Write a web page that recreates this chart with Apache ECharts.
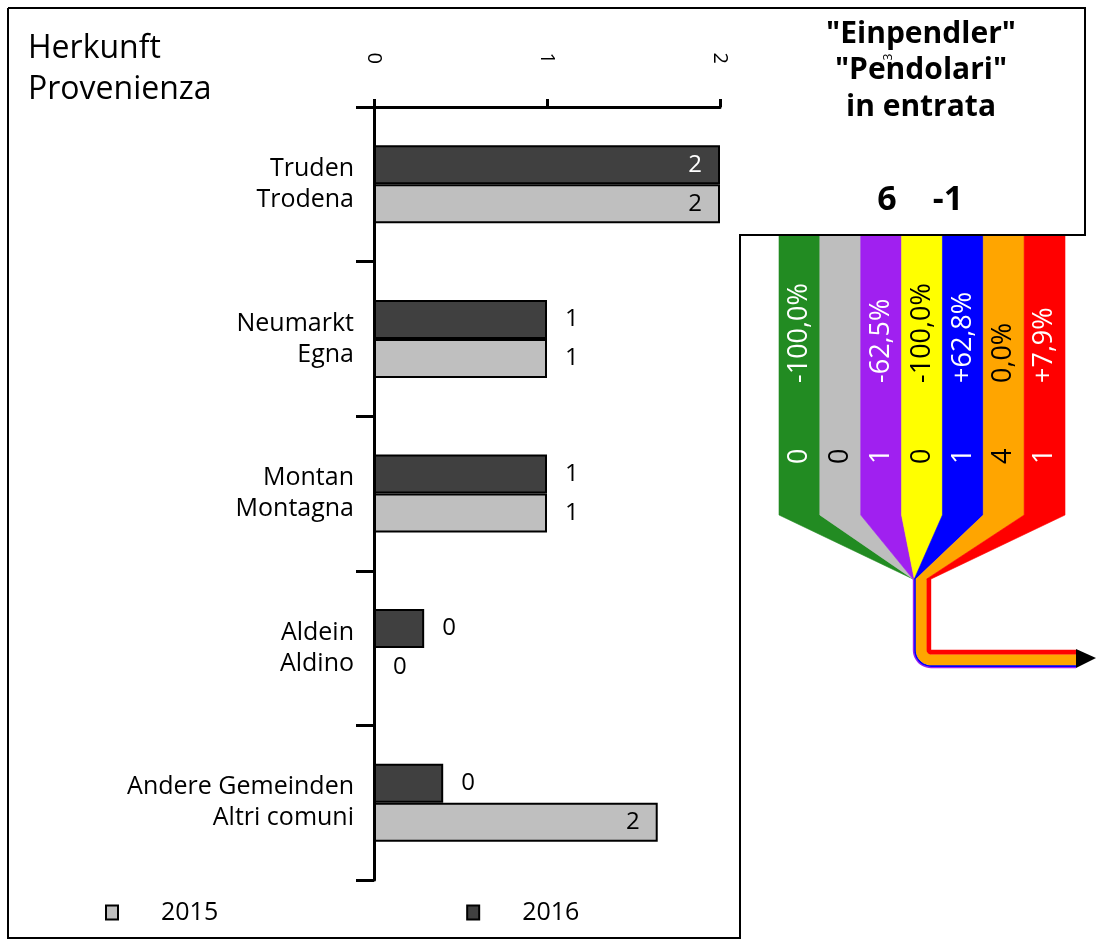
<!DOCTYPE html>
<html><head><meta charset="utf-8">
<script src="https://cdn.jsdelivr.net/npm/echarts@6/dist/echarts.min.js"></script>
<style>html,body{margin:0;padding:0;background:#fff}#c{width:1096px;height:942px}</style>
</head><body><div id="c"></div>
<script>
// ---- data ----
const categories = ['Truden\nTrodena', 'Neumarkt\nEgna', 'Montan\nMontagna', 'Aldein\nAldino', 'Andere Gemeinden\nAltri comuni'];
const values2016 = [2, 1, 1, 0.29, 0.40];
const values2015 = [2, 1, 1, 0, 1.64];
const xTickValues = [0, 1, 2];
const seriesNames = ['2015', '2016'];
const modes = ['m1', 'm2', 'm3', 'm4', 'm5', 'm6', 'm7'];
const modeChanges = ['-100,0%', '', '-62,5%', '-100,0%', '+62,8%', '0,0%', '+7,9%'];
const modeCounts = [0, 0, 1, 0, 1, 4, 1];
const flowValues = [0, 0, 0.5, 0, 0.6, 4.0, 1.6];
const titleLines = ['"Einpendler"', '"Pendolari"', 'in entrata'];
const headerLines = ['Herkunft', 'Provenienza'];
const totalValue = '6';
const totalChange = '-1';

// ---- styles ----
const FONT = 'Open Sans';
const modeColors = ['#228B22', '#BEBEBE', '#A020F0', '#FFFF00', '#0000FF', '#FFA500', '#FF0000'];
const modeTextColors = ['#fff', '#000', '#fff', '#000', '#fff', '#000', '#fff'];
const PX = 2.7;

const chart = echarts.init(document.getElementById('c'), null, {renderer: 'canvas'});

function barItems(vals, insideColor) {
  return vals.map(v => ({
    value: v,
    label: v >= 1.5
      ? {position: 'insideRight', distance: 18, color: insideColor}
      : {position: 'right', distance: 18, color: '#000'}
  }));
}

function renderStripe(params, api) {
  const n = modes.length;
  const i = params.dataIndex;
  const band = api.size([1, 0])[0];
  const cTop = api.coord([i, 1]);
  const cBot = api.coord([i, 0]);
  const x0 = cTop[0] - band / 2, x1 = cTop[0] + band / 2;
  const yTop = cTop[1], yB = cBot[1], yF = yB - 64;
  const left = api.coord([0, 0])[0] - band / 2;
  const right = api.coord([n - 1, 0])[0] + band / 2;
  const center = (left + right) / 2;
  const total = flowValues.reduce((a, b) => a + b, 0) * PX;
  const pipeRight = center + total / 2;
  let after = 0;
  for (let j = i + 1; j < n; j++) after += flowValues[j];
  const w = flowValues[i] * PX;
  const p1 = pipeRight - after * PX;
  const p0 = p1 - w;
  const color = modeColors[i];
  const children = [{
    type: 'polygon',
    shape: {points: [[x0, yTop], [x1, yTop], [x1, yF], [p1, yB], [p0, yB], [x0, yF]]},
    style: {fill: color, stroke: color, lineWidth: 0.6}
  }];
  const yC = yB + 71;
  const xEnd = right + 11;
  if (w > 0) {
    const o = after * PX + w / 2;
    const pts = [[pipeRight - o, yB], [pipeRight - o, yC]];
    for (let k = 1; k <= 12; k++) {
      const t = Math.PI - (Math.PI / 2) * k / 12;
      pts.push([pipeRight + o * Math.cos(t), yC + o * Math.sin(t)]);
    }
    pts.push([xEnd, yC + o]);
    children.push({type: 'polyline', shape: {points: pts}, style: {stroke: color, lineWidth: w + 0.3, fill: null}});
  }
  if (i === n - 1) {
    children.push({
      type: 'polygon',
      shape: {points: [[xEnd, yC - 1], [xEnd + 20, yC + total / 2 - 1], [xEnd, yC + total]]},
      style: {fill: '#000'}
    });
  }
  if (modeChanges[i]) {
    children.push({type: 'text', x: cTop[0], y: yTop + 148, rotation: Math.PI / 2,
      style: {text: modeChanges[i], fill: modeTextColors[i], font: '27px "' + FONT + '"', align: 'left', verticalAlign: 'middle'}});
  }
  children.push({type: 'text', x: cTop[0], y: yTop + 229, rotation: Math.PI / 2,
    style: {text: String(modeCounts[i]), fill: modeTextColors[i], font: '27px "' + FONT + '"', align: 'left', verticalAlign: 'middle'}});
  return {type: 'group', children};
}

const graphics = [
  {type: 'polyline', shape: {points: [[8, 8], [1085, 8], [1085, 235], [740, 235], [740, 938], [8, 938], [8, 8]]},
   style: {stroke: '#000', lineWidth: 2, fill: null}, z: 10},
  {type: 'text', x: 28, y: 49, style: {text: headerLines[0], font: '32px "' + FONT + '"', fill: '#000', align: 'left', verticalAlign: 'middle'}},
  {type: 'text', x: 28, y: 90, style: {text: headerLines[1], font: '32px "' + FONT + '"', fill: '#000', align: 'left', verticalAlign: 'middle'}},
  {type: 'text', x: 887, y: 200, style: {text: totalValue, font: 'bold 34px "' + FONT + '"', fill: '#000', align: 'center', verticalAlign: 'middle'}},
  {type: 'text', x: 948, y: 200, style: {text: totalChange, font: 'bold 34px "' + FONT + '"', fill: '#000', align: 'center', verticalAlign: 'middle'}},
  {type: 'text', x: 889, y: 57, rotation: Math.PI / 2, style: {text: '3', font: '12px "' + FONT + '"', fill: '#000', align: 'center', verticalAlign: 'middle'}}
];
titleLines.forEach((t, k) => graphics.push({type: 'text', x: 921, y: 34 + k * 36.5,
  style: {text: t, font: 'bold 30px "' + FONT + '"', fill: '#000', align: 'center', verticalAlign: 'middle'}}));

const option = {
  animation: false,
  textStyle: {fontFamily: FONT},
  grid: [
    {left: 374, top: 107, width: 346, height: 773},
    {left: 779, top: 235, width: 286, height: 344}
  ],
  xAxis: [
    {type: 'value', gridIndex: 0, position: 'top', min: xTickValues[0], max: xTickValues[xTickValues.length - 1], interval: 1,
     axisLine: {show: true, lineStyle: {color: '#000', width: 3}},
     axisTick: {show: true, length: 8, lineStyle: {color: '#000', width: 3}},
     axisLabel: {rotate: 90, margin: 43, fontSize: 20, color: '#000', fontFamily: FONT},
     splitLine: {show: false}},
    {type: 'category', gridIndex: 1, data: modes, show: false}
  ],
  yAxis: [
    {type: 'category', gridIndex: 0, data: categories, inverse: true,
     axisLine: {show: true, lineStyle: {color: '#000', width: 3}},
     axisTick: {show: true, length: 18, lineStyle: {color: '#000', width: 3}},
     axisLabel: {margin: 20, fontSize: 25, lineHeight: 31, color: '#000', align: 'right', fontFamily: FONT}},
    {type: 'value', gridIndex: 1, min: 0, max: 1, show: false}
  ],
  legend: {
    data: seriesNames, left: 100, top: 895, icon: 'rect', itemWidth: 12, itemHeight: 14, itemGap: 248,
    textStyle: {fontSize: 25, color: '#000', padding: [0, 0, 0, 38], fontFamily: FONT}
  },
  series: [
    {name: seriesNames[1], type: 'bar', xAxisIndex: 0, yAxisIndex: 0, data: barItems(values2016, '#fff'),
     barWidth: 39, barGap: '0%',
     itemStyle: {color: '#404040', borderColor: '#000', borderWidth: 2},
     label: {show: true, fontSize: 24, fontFamily: FONT, formatter: p => String(Math.round(p.value))}},
    {name: seriesNames[0], type: 'bar', xAxisIndex: 0, yAxisIndex: 0, data: barItems(values2015, '#000'),
     barWidth: 39, barGap: '0%',
     itemStyle: {color: '#BFBFBF', borderColor: '#000', borderWidth: 2},
     label: {show: true, fontSize: 24, fontFamily: FONT, formatter: p => String(Math.round(p.value))}},
    {type: 'custom', xAxisIndex: 1, yAxisIndex: 1, data: modes.map((m, i) => [i, 1]),
     renderItem: renderStripe, silent: true}
  ],
  graphic: graphics
};
chart.setOption(option);
</script>
</body></html>
